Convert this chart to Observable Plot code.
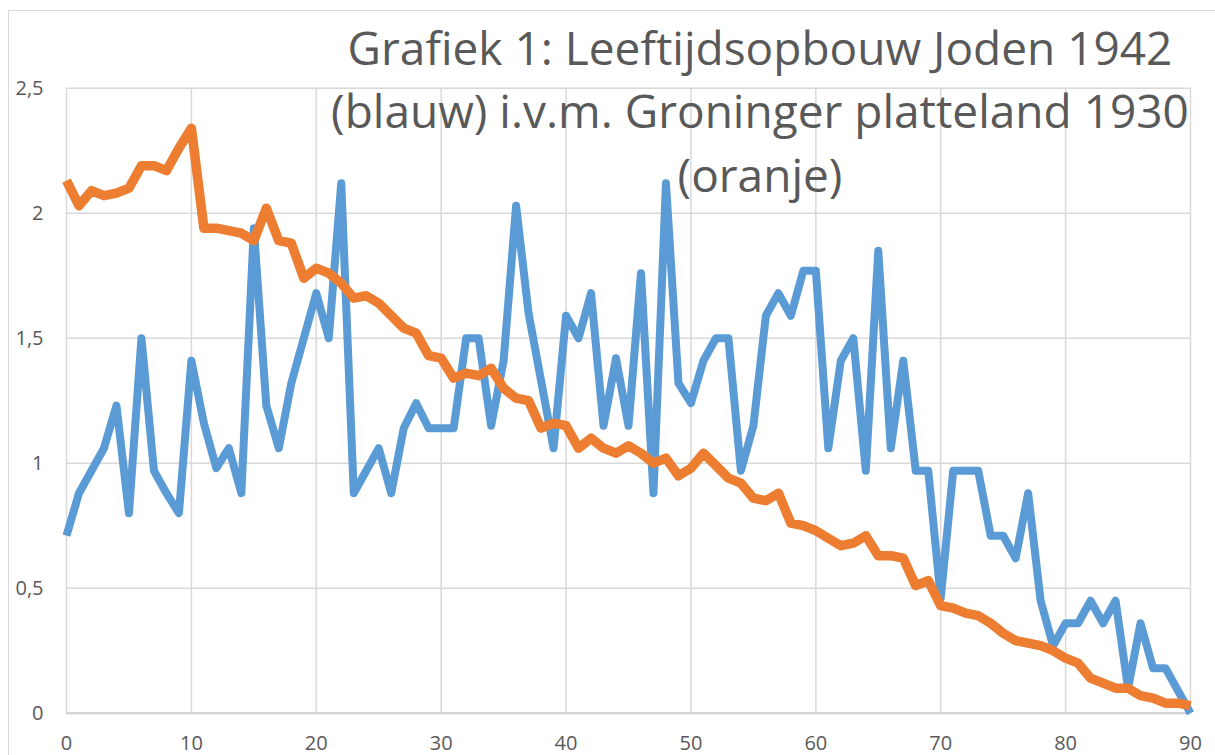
<!DOCTYPE html>
<html>
<head>
<meta charset="utf-8">
<script src="https://cdn.jsdelivr.net/npm/d3@7"></script>
<script src="https://cdn.jsdelivr.net/npm/@observablehq/plot@0.6"></script>
<style>
  html, body { margin: 0; padding: 0; background: #fff; overflow: hidden; }
  #wrap { position: relative; width: 1215px; height: 755px; overflow: hidden; }
  #border { position: absolute; left: 8px; top: 10px; width: 1400px; height: 900px; border: 1.5px solid #d9d9d9; box-sizing: border-box; }
  #chart { position: absolute; left: 0; top: 0; }
  #title { position: absolute; left: 0; top: 0; pointer-events: none; }
</style>
</head>
<body>
<div id="wrap">
  <div id="border"></div>
  <div id="chart"></div>
  <svg id="title" width="1215" height="755"></svg>
</div>
<script>
// Ages 0..90
const ages = d3.range(0, 91);

// Blue: Joden 1942 (percentage per age year)
const joden = [
  0.71, 0.88, 0.97, 1.06, 1.23, 0.80, 1.50, 0.97, 0.88, 0.80,
  1.41, 1.16, 0.98, 1.06, 0.88, 1.94, 1.23, 1.06, 1.32, 1.50,
  1.68, 1.50, 2.12, 0.88, 0.97, 1.06, 0.88, 1.14, 1.24, 1.14,
  1.14, 1.14, 1.50, 1.50, 1.15, 1.41, 2.03, 1.60, 1.33, 1.06,
  1.59, 1.50, 1.68, 1.15, 1.42, 1.15, 1.76, 0.88, 2.12, 1.32,
  1.24, 1.41, 1.50, 1.50, 0.97, 1.15, 1.59, 1.68, 1.59, 1.77,
  1.77, 1.06, 1.41, 1.50, 0.97, 1.85, 1.06, 1.41, 0.97, 0.97,
  0.46, 0.97, 0.97, 0.97, 0.71, 0.71, 0.62, 0.88, 0.45, 0.27,
  0.36, 0.36, 0.45, 0.36, 0.45, 0.10, 0.36, 0.18, 0.18, 0.09,
  0.00
];

// Orange: Groninger platteland 1930
const platteland = [
  2.13, 2.03, 2.09, 2.07, 2.08, 2.10, 2.19, 2.19, 2.17, 2.26,
  2.34, 1.94, 1.94, 1.93, 1.92, 1.89, 2.02, 1.89, 1.88, 1.74,
  1.78, 1.76, 1.72, 1.66, 1.67, 1.64, 1.59, 1.54, 1.52, 1.43,
  1.42, 1.34, 1.36, 1.35, 1.38, 1.30, 1.26, 1.25, 1.14, 1.16,
  1.15, 1.06, 1.10, 1.06, 1.04, 1.07, 1.04, 1.00, 1.02, 0.95,
  0.98, 1.04, 0.99, 0.94, 0.92, 0.86, 0.85, 0.88, 0.76, 0.75,
  0.73, 0.70, 0.67, 0.68, 0.71, 0.63, 0.63, 0.62, 0.51, 0.53,
  0.43, 0.42, 0.40, 0.39, 0.36, 0.32, 0.29, 0.28, 0.27, 0.25,
  0.22, 0.20, 0.14, 0.12, 0.10, 0.10, 0.07, 0.06, 0.04, 0.04,
  0.03
];

const xTicks = [0, 10, 20, 30, 40, 50, 60, 70, 80, 90];
const yTicks = [0, 0.5, 1, 1.5, 2, 2.5];
const yTickLabels = ["0", "0,5", "1", "1,5", "2", "2,5"];

const titleLines = [
  "Grafiek 1: Leeftijdsopbouw Joden 1942",
  "(blauw) i.v.m. Groninger platteland 1930",
  "(oranje)"
];

const font = "'Open Sans', 'Noto Sans', sans-serif";
const grey = "#595959";
const gridColor = "#d9d9d9";

const chart = Plot.plot({
  width: 1215,
  height: 755,
  marginLeft: 66,
  marginRight: 25,
  marginTop: 87.7,
  marginBottom: 42.3,
  style: { fontFamily: font, fontSize: "20px", color: grey, background: "transparent", overflow: "visible" },
  x: { domain: [0, 90] },
  y: { domain: [0, 2.5] },
  marks: [
    Plot.gridX(xTicks, { stroke: gridColor, strokeOpacity: 1, strokeWidth: 1.5 }),
    Plot.gridY(yTicks, { stroke: gridColor, strokeOpacity: 1, strokeWidth: 1.5 }),
    Plot.ruleY([0], { stroke: "#d0d0d0", strokeWidth: 2 }),
    Plot.axisX({ ticks: xTicks, tickSize: 0, tickPadding: 23, label: null, fill: grey, tickFormat: d => String(d) }),
    Plot.axisY({ ticks: yTicks, tickSize: 0, tickPadding: 23, label: null, fill: grey,
                 tickFormat: d => yTickLabels[yTicks.indexOf(d)] }),
    Plot.line(joden, { x: (d, i) => ages[i], y: d => d, stroke: "#5B9BD5", strokeWidth: 8,
                       strokeLinejoin: "round", strokeLinecap: "butt" }),
    Plot.line(platteland, { x: (d, i) => ages[i], y: d => d, stroke: "#ED7D31", strokeWidth: 9.5,
                            strokeLinejoin: "round", strokeLinecap: "butt" })
  ]
});
document.getElementById("chart").appendChild(chart);

// Title overlay
const tsvg = d3.select("#title");
const baselines = [65, 128, 192];
titleLines.forEach((t, i) => {
  tsvg.append("text")
    .attr("x", 760)
    .attr("y", baselines[i])
    .attr("text-anchor", "middle")
    .attr("font-family", font)
    .attr("font-size", 46)
    .attr("fill", grey)
    .text(t);
});
</script>
</body>
</html>
